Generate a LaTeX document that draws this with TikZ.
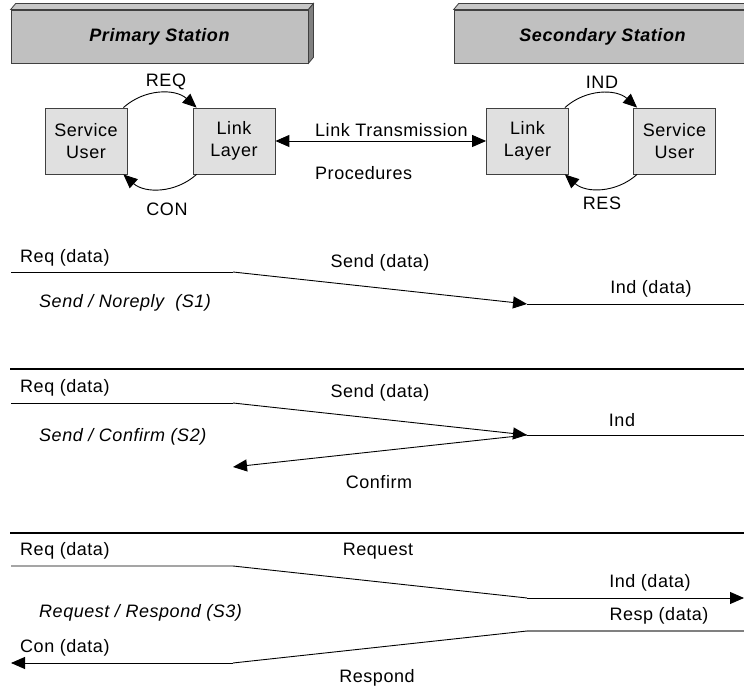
\documentclass[tikz,border=0pt]{standalone}
\usepackage{fontspec}
\setmainfont{Liberation Sans}[LetterSpace=3]
\usetikzlibrary{arrows.meta,calc}
\definecolor{stfront}{HTML}{C0C0C0}
\definecolor{sttop}{HTML}{C8C8C8}
\definecolor{stside}{HTML}{808080}
\definecolor{boxfill}{HTML}{E0E0E0}
\definecolor{edge}{HTML}{404040}
\begin{document}
\begin{tikzpicture}[x=1pt,y=1pt,
  every node/.style={font=\fontsize{18}{22}\selectfont, inner sep=0pt},
  tip/.style={-{Triangle[length=14pt,width=12pt]}},
  tips/.style={{Triangle[length=14pt,width=12pt]}-{Triangle[length=14pt,width=12pt]}},
  ln/.style={line width=0.9pt, black},
  sep/.style={line width=2.2pt, black},
  station/.style={draw=edge, line width=0.8pt, fill=stfront, minimum width=297pt, minimum height=53pt},
  stbox/.style={draw=edge, line width=0.8pt, fill=boxfill, minimum width=82pt, minimum height=66pt, align=center},
  face/.style={draw=edge, line width=0.8pt},
  lab/.style={anchor=west},
  slab/.style={anchor=west, font=\fontsize{18}{22}\selectfont\itshape}
]
\clip (0,0) rectangle (744,690);

% stations
\node[station] (ps) at (159.5,653.5) {};
\draw[face, fill=sttop] (ps.north west) -- ++(5,6) -- ($(ps.north east)+(5,6)$) -- (ps.north east) -- cycle;
\draw[face, fill=stside] (ps.north east) -- ++(5,6) -- ($(ps.south east)+(5,6)$) -- (ps.south east) -- cycle;
\node[font=\fontsize{18}{22}\selectfont\bfseries\itshape] (pst) at (ps.center) {Primary Station};

\node[station] (ss) at (602.5,653.5) {};
\draw[face, fill=sttop] (ss.north west) -- ++(5,6) -- ($(ss.north east)+(5,6)$) -- (ss.north east) -- cycle;
\draw[face, fill=stside] (ss.north east) -- ++(5,6) -- ($(ss.south east)+(5,6)$) -- (ss.south east) -- cycle;
\node[font=\fontsize{18}{22}\selectfont\bfseries\itshape] (sst) at (ss.center) {Secondary Station};

% boxes
\node[stbox] (su1) at (86,549) {Service\\User};
\node[stbox] (ll1) at (234,549) {Link\\Layer};
\node[stbox] (ll2) at (527.5,549) {Link\\Layer};
\node[stbox] (su2) at (674.5,549) {Service\\User};

\draw[ln, tip] ([xshift=-4pt]su1.north east) to[bend left=42] ([xshift=4pt]ll1.north west);
\draw[ln, tip] ([xshift=4pt]ll1.south west) to[bend left=42] ([xshift=-4pt]su1.south east);
\draw[ln, tip] ([xshift=-4pt]ll2.north east) to[bend left=42] ([xshift=4pt]su2.north west);
\draw[ln, tip] ([xshift=4pt]su2.south west) to[bend left=42] ([xshift=-4pt]ll2.south east);
\draw[ln, tips] (ll1.east) -- (ll2.west);

\node (req) at (166,608) {REQ};
\node (con) at (167,481) {CON};
\node (ind) at (602,608) {IND};
\node (res) at (602,487) {RES};
\node[lab] (ltr) at (315,560) {Link Transmission};
\node[lab] (proc) at (315,517) {Procedures};

% S1
\coordinate (a1) at (11,418);
\coordinate (b1) at (233,418);
\coordinate (c1) at (527,386);
\coordinate (d1) at (744,386);
\draw[ln] (a1) -- (b1);
\draw[ln, tip] (b1) -- (c1);
\draw[ln] (c1) -- (d1);
\node[lab] (r1) at (20,432) {Req (data)};
\node (sd1) at (380,427) {Send (data)};
\node (id1) at (651,401) {Ind (data)};
\node[slab] (t1) at (39,387) {Send / Noreply \ (S1)};

% S2
\coordinate (s2l) at (10,321);
\coordinate (s2r) at (744,321);
\draw[sep] (s2l) -- (s2r);
\coordinate (a2) at (11,287);
\coordinate (b2) at (233,287);
\coordinate (c2) at (527,255);
\coordinate (d2) at (744,255);
\coordinate (e2) at (233,223);
\draw[ln] (a2) -- (b2);
\draw[ln, tip] (b2) -- (c2);
\draw[ln] (c2) -- (d2);
\draw[ln, tip] (c2) -- (e2);
\node[lab] (r2) at (20,302) {Req (data)};
\node (sd2) at (380,297) {Send (data)};
\node (id2) at (622,270) {Ind};
\node[slab] (t2) at (39,253) {Send / Confirm (S2)};
\node (cf2) at (379,208) {Confirm};

% S3
\coordinate (s3l) at (10,157);
\coordinate (s3r) at (744,157);
\draw[sep] (s3l) -- (s3r);
\coordinate (a3) at (11,124);
\coordinate (b3) at (233,124);
\coordinate (c3) at (527,92);
\coordinate (d3) at (744,92);
\draw[ln] (a3) -- (b3) -- (c3);
\draw[ln, tip] (c3) -- (d3);
\coordinate (f3) at (744,59);
\coordinate (g3) at (527,59);
\coordinate (h3) at (233,27);
\coordinate (k3) at (11,27);
\draw[line width=1.3pt, stside] (f3) -- (g3);
\draw[ln] (g3) -- (h3);
\draw[ln, tip] (h3) -- (k3);
\node[lab] (r3) at (20,139) {Req (data)};
\node (rq3) at (378,139) {Request};
\node (id3) at (650,107) {Ind (data)};
\node (rs3) at (659,74) {Resp (data)};
\node[slab] (t3) at (39,77) {Request / Respond (S3)};
\node[lab] (cn3) at (20,42) {Con (data)};
\node (rp3) at (377,12) {Respond};
\end{tikzpicture}
\end{document}
